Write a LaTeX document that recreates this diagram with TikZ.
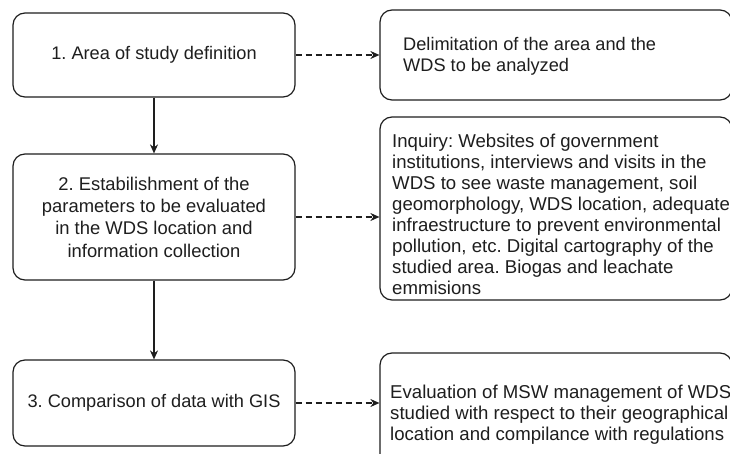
\documentclass[tikz,border=0pt]{standalone}
\usepackage{fontspec}
\setmainfont{Liberation Sans}
\usetikzlibrary{arrows.meta}
\definecolor{ink}{HTML}{1E1E1E}
\begin{document}
\frenchspacing
\begin{tikzpicture}[x=1pt,y=-1pt,
  every node/.style={font=\fontsize{18.2}{21}\selectfont, text=ink},
  stepbox/.style={draw=ink, line width=1.2pt, rounded corners=12pt, align=center, inner sep=0pt, minimum width=282pt},
  infobox/.style={draw=ink, line width=1.2pt, rounded corners=12pt, inner sep=0pt, minimum width=352pt},
  infotext/.style={anchor=west, align=left, inner sep=0pt, font=\fontsize{18.6}{21}\selectfont},
  flow/.style={draw=ink, line width=1.2pt, -{Stealth[length=9pt,width=8pt]}},
  link/.style={draw=ink, line width=1.1pt, dash pattern=on 6pt off 4pt, -{Stealth[length=9pt,width=8pt]}}
]
\useasboundingbox (0,0) rectangle (730,454);
\clip (0,0) rectangle (730,454);
\fill[white] (0,0) rectangle (730,454);

\node[stepbox, minimum height=84pt] (s1) at (154,55) {1. Area of study definition};
\node[stepbox, minimum height=126pt, font=\fontsize{18.4}{22.3}\selectfont] (s2) at (154,217) {2. Estabilishment of the\\parameters to be evaluated\\in the WDS location and\\information collection};
\node[stepbox, minimum height=86pt] (s3) at (154,403) {3. Comparison of data with GIS};

\node[infobox, minimum height=90pt] (r1) at (556,55) {};
\node[infobox, minimum height=183pt] (r2) at (556,208.5) {};
\node[infobox, minimum height=126pt] (r3) at (556,416) {};

\node[infotext, font=\fontsize{18.2}{21}\selectfont] (t1) at (403,56.5) {Delimitation of the area and the\\WDS to be analyzed};
\node[infotext] (t2) at (392,214) {Inquiry: Websites of government\\institutions, interviews and visits in the\\WDS to see waste management, soil\\geomorphology, WDS location, adequate\\infraestructure to prevent environmental\\pollution, etc. Digital cartography of the\\studied area. Biogas and leachate\\emmisions};
\node[infotext] (t3) at (390,414.5) {Evaluation of MSW management of WDS\\studied with respect to their geographical\\location and compilance with regulations};

\draw[flow] (s1) -- (s2);
\draw[flow] (s2) -- (s3);
\draw[link] (s1.east) -- (s1.east -| r1.west);
\draw[link] (s2.east) -- (s2.east -| r2.west);
\draw[link] (s3.east) -- (s3.east -| r3.west);
\end{tikzpicture}
\end{document}
